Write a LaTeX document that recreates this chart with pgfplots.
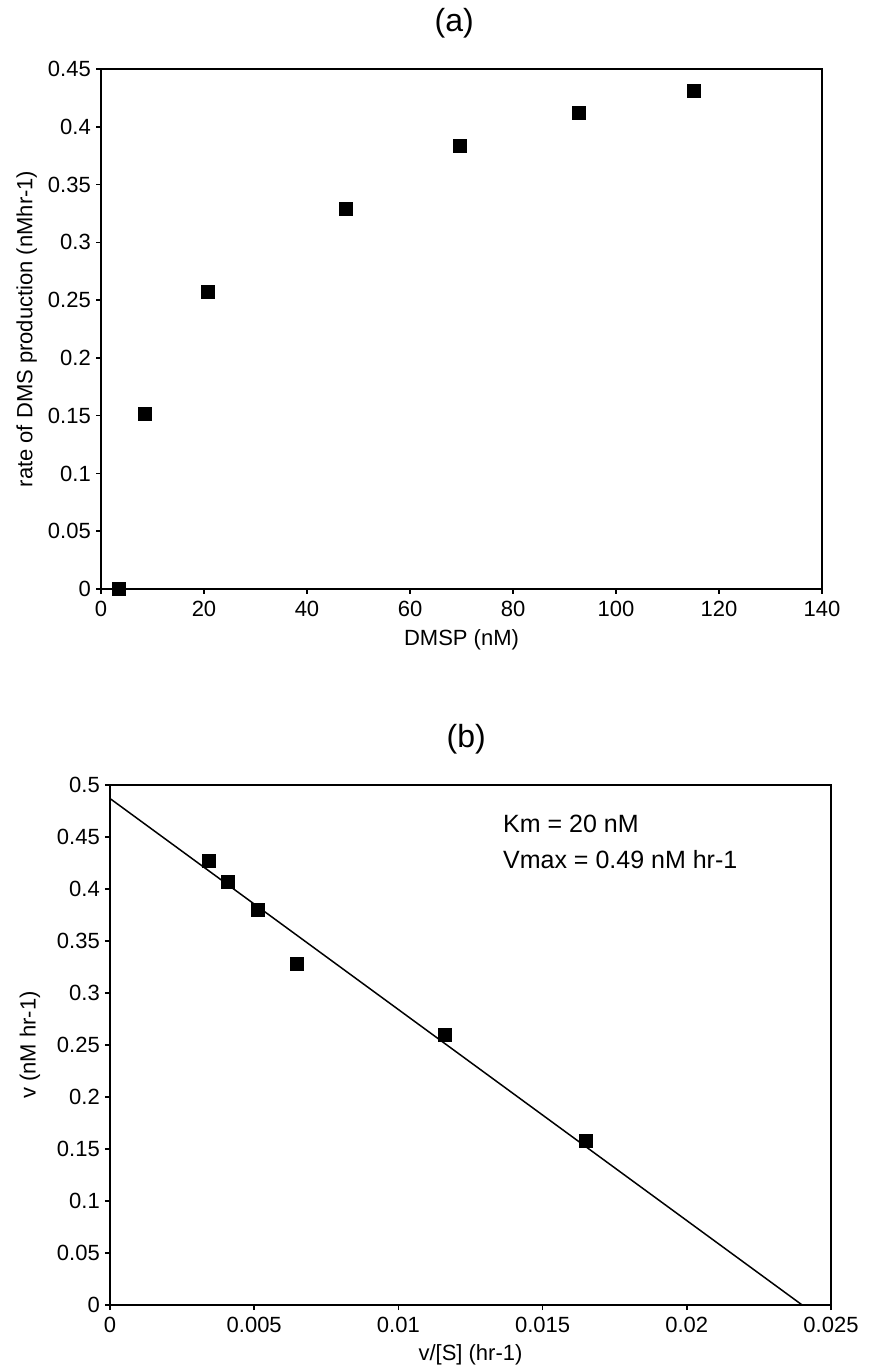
\documentclass[border=0pt]{standalone}
\usepackage{fontspec}
\setmainfont{Liberation Sans}
\usepackage{pgfplots}
\pgfplotsset{compat=1.18}
\begin{document}
\begin{tikzpicture}
\useasboundingbox (0pt,0pt) rectangle (868pt,1367pt);
\pgfplotsset{
  common/.style={
    scale only axis, width=721pt, height=520pt,
    axis line style={line width=1.6pt},
    major tick style={line width=1.6pt, black},
    major tick length=5pt,
    tick align=outside, tick pos=left,
    scaled x ticks=false, scaled y ticks=false,
    tick label style={font=\fontsize{22}{26}\selectfont},
    yticklabel style={inner sep=0pt, xshift=-5pt},
    xticklabel style={inner sep=0pt, yshift=-7pt},
    label style={font=\fontsize{22}{26}\selectfont},
    title style={font=\fontsize{32}{36}\selectfont},
    clip=false,
  }
}
\begin{axis}[common, at={(101pt,778pt)}, anchor=south west,
  xmin=0, xmax=140, ymin=0, ymax=0.45,
  xtick={0,20,40,60,80,100,120,140},
  xticklabels={0,20,40,60,80,100,120,140},
  ytick={0,0.05,0.1,0.15,0.2,0.25,0.3,0.35,0.4,0.45},
  yticklabels={0,0.05,0.1,0.15,0.2,0.25,0.3,0.35,0.4,0.45},
  title={(a)}, title style={at={(axis description cs:0.49,1)}, anchor=base, yshift=31pt},
  xlabel={DMSP (nM)}, xlabel style={at={(axis description cs:0.5,0)}, anchor=base, yshift=-57pt},
  ylabel={rate of DMS production (nMhr-1)}, ylabel style={at={(axis description cs:-0.103,0.5)}, anchor=center},
]
\addplot[only marks, mark=square*, mark size=6.5pt, black] coordinates {
(3.4,0) (8.5,0.152) (20.7,0.257) (47.6,0.329) (69.7,0.384) (92.8,0.412) (115,0.431)};
\end{axis}
\begin{axis}[common, at={(110pt,62pt)}, anchor=south west,
  xmin=0, xmax=0.025, ymin=0, ymax=0.5,
  xtick={0,0.005,0.01,0.015,0.02,0.025},
  xticklabels={0,0.005,0.01,0.015,0.02,0.025},
  ytick={0,0.05,0.1,0.15,0.2,0.25,0.3,0.35,0.4,0.45,0.5},
  yticklabels={0,0.05,0.1,0.15,0.2,0.25,0.3,0.35,0.4,0.45,0.5},
  title={(b)}, title style={at={(axis description cs:0.494,1)}, anchor=base, yshift=31pt},
  xlabel={v/[S] (hr-1)}, xlabel style={at={(axis description cs:0.5,0)}, anchor=base, yshift=-55pt},
  ylabel={v (nM hr-1)}, ylabel style={at={(axis description cs:-0.111,0.5)}, anchor=center},
]
\addplot[black, line width=1.5pt, no marks] coordinates {(0,0.487) (0.0240,0)};
\addplot[only marks, mark=square*, mark size=6.5pt, black] coordinates {
(0.00343,0.427) (0.00408,0.407) (0.00511,0.380) (0.00648,0.328) (0.0116,0.26) (0.0165,0.158)};
\node[anchor=base west, font=\fontsize{25}{30}\selectfont, inner sep=0pt] at (axis description cs:0.545,0.9096) {Km = 20 nM};
\node[anchor=base west, font=\fontsize{25}{30}\selectfont, inner sep=0pt] at (axis description cs:0.545,0.840) {Vmax = 0.49 nM hr-1};
\end{axis}
\end{tikzpicture}
\end{document}
